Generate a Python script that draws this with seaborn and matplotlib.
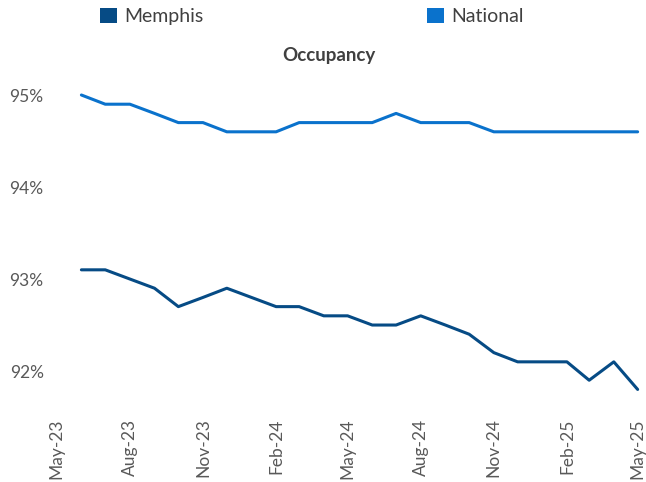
import pandas as pd
import matplotlib
matplotlib.use("Agg")
import matplotlib.pyplot as plt
import matplotlib.dates as mdates
from matplotlib.patches import Patch
import seaborn as sns

# monthly values, Jun-23 .. May-25
months = pd.date_range("2023-06-01", "2025-05-01", freq="MS")
memphis = [93.1, 93.1, 93.0, 92.9, 92.7, 92.8, 92.9, 92.8, 92.7, 92.7, 92.6, 92.6,
           92.5, 92.5, 92.6, 92.5, 92.4, 92.2, 92.1, 92.1, 92.1, 91.9, 92.1, 91.8]
national = [95.0, 94.9, 94.9, 94.8, 94.7, 94.7, 94.6, 94.6, 94.6, 94.7, 94.7, 94.7,
            94.7, 94.8, 94.7, 94.7, 94.7, 94.6, 94.6, 94.6, 94.6, 94.6, 94.6, 94.6]
series_names = ["Memphis", "National"]
colors = {"Memphis": "#064B85", "National": "#0A72CC"}
y_ticks = [92, 93, 94, 95]

df = pd.concat([
    pd.DataFrame({"Month": months, "Occupancy": memphis, "Series": "Memphis"}),
    pd.DataFrame({"Month": months, "Occupancy": national, "Series": "National"}),
])

sns.set_style("white")
plt.rcParams["font.family"] = ["Lato", "DejaVu Sans"]

fig = plt.figure(figsize=(6.46, 4.82), dpi=100)
ax = fig.add_axes([52 / 646, 76 / 482, (644 - 52) / 646, (406 - 72) / 482])

sns.lineplot(data=df, x="Month", y="Occupancy", hue="Series", palette=colors,
             linewidth=2.2, legend=False, ax=ax)

ax.set_ylim(91.62, 95.25)
ax.set_xlim(pd.Timestamp("2023-04-25"), pd.Timestamp("2025-05-09"))
ax.set_yticks(y_ticks)
ax.set_yticklabels([f"{v}%" for v in y_ticks])
ax.xaxis.set_major_locator(mdates.MonthLocator(bymonth=[2, 5, 8, 11]))
ax.xaxis.set_minor_locator(mdates.MonthLocator())
ax.xaxis.set_major_formatter(mdates.DateFormatter("%b-%y"))
plt.setp(ax.get_xticklabels(), rotation=90)

ax.tick_params(axis="both", which="both", colors="#D9D9D9", labelcolor="#595959",
               labelsize=12.5, length=4, width=0.8, pad=5)
ax.tick_params(axis="y", pad=2)
ax.set_xlabel("")
ax.set_ylabel("")
for s in ax.spines.values():
    s.set_visible(False)

fig.text(0.509, 0.884, "Occupancy", ha="center", va="center",
         fontsize=13.5, fontweight="bold", color="#404040")

handles = [Patch(facecolor=colors[n], edgecolor="none") for n in series_names]
fig.legend(handles, series_names, loc="center", bbox_to_anchor=(0.483, 0.966),
           ncol=2, frameon=False, fontsize=14, labelcolor="#404040",
           handlelength=0.85, handleheight=0.85, handletextpad=0.4, columnspacing=11.5)

fig.savefig("out.png", dpi=100)
